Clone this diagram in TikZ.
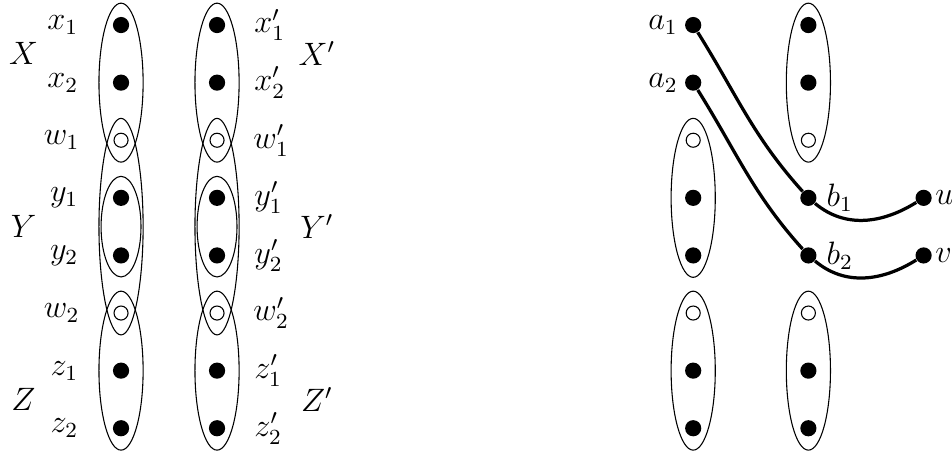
\documentclass[tikz,border=0pt]{standalone}
\usetikzlibrary{positioning, calc, shapes.geometric}

\begin{document}
\begin{tikzpicture}[
    every node/.style={font=\large},
    dot/.style={circle, fill=black, inner sep=0pt, minimum size=6pt},
    hole/.style={circle, draw=black, fill=white, thin, inner sep=0pt, minimum size=5.2pt},
    group_ell/.style={ellipse, draw=black, thin, inner sep=0pt, minimum width=0.575cm},
    path_line/.style={line width=1.2pt}
]
\useasboundingbox (-1.576,0.326) rectangle (10.82,-5.547);

% left picture: two columns
\foreach \n/\lab/\r/\s in {x1/x_1/0/dot, x2/x_2/1/dot, w1/w_1/2/hole, y1/y_1/3/dot,
                           y2/y_2/4/dot, w2/w_2/5/hole, z1/z_1/6/dot, z2/z_2/7/dot} {
    \coordinate (c\n) at (0,-0.75*\r);
    \coordinate (rc\n) at (1.25,-0.75*\r);
}
\node[group_ell, minimum height=2.07cm] (ellX) at (cx2) {};
\node[group_ell, minimum height=2.82cm] (ellY) at ($(cy1)!.5!(cy2)$) {};
\node[group_ell, minimum height=1.31cm, minimum width=0.52cm] (ellYin) at ($(cy1)!.5!(cy2)$) {};
\node[group_ell, minimum height=2.07cm] (ellZ) at (cz1) {};
\node[group_ell, minimum height=2.07cm] (ellXp) at (rcx2) {};
\node[group_ell, minimum height=2.82cm] (ellYp) at ($(rcy1)!.5!(rcy2)$) {};
\node[group_ell, minimum height=1.31cm, minimum width=0.52cm] (ellYinp) at ($(rcy1)!.5!(rcy2)$) {};
\node[group_ell, minimum height=2.07cm] (ellZp) at (rcz1) {};

\foreach \n/\lab/\r/\s in {x1/x_1/0/dot, x2/x_2/1/dot, w1/w_1/2/hole, y1/y_1/3/dot,
                           y2/y_2/4/dot, w2/w_2/5/hole, z1/z_1/6/dot, z2/z_2/7/dot} {
    \node[\s, label={[label distance=0.32cm]left:$\lab$}] (\n) at (c\n) {};
    \node[\s, label={[label distance=0.25cm]right:$\lab'$}] (r\n) at (rc\n) {};
}
\node (lblX) at ($(x1)!.5!(x2)+(-1.27,0)$) {$X$};
\node (lblY) at ($(y1)!.5!(y2)+(-1.27,0)$) {$Y$};
\node (lblZ) at ($(z1)!.5!(z2)+(-1.27,0)$) {$Z$};
\node (lblXp) at ($(rx1)!.5!(rx2)+(1.3,0)$) {$X'$};
\node (lblYp) at ($(ry1)!.5!(ry2)+(1.3,0)$) {$Y'$};
\node (lblZp) at ($(rz1)!.5!(rz2)+(1.3,0)$) {$Z'$};

% right picture
\node[group_ell, minimum height=2.07cm] (ellC) at (8.95,-0.75) {};
\node[group_ell, minimum height=2.07cm] (ellD) at (7.45,-2.25) {};
\node[group_ell, minimum height=2.07cm] (ellE) at (7.45,-4.5) {};
\node[group_ell, minimum height=2.07cm] (ellF) at (8.95,-4.5) {};

\node[dot, label={[label distance=-1pt]left:$a_1$}] (a1) at (7.45,0) {};
\node[dot, label={[label distance=-1pt]left:$a_2$}] (a2) at (7.45,-0.75) {};
\node[dot, label={[label distance=0pt]right:$b_1$}] (b1) at (8.95,-2.25) {};
\node[dot, label={[label distance=0pt]right:$b_2$}] (b2) at (8.95,-3) {};
\node[dot, label={[label distance=-2.4pt]right:$u$}] (u) at (10.45,-2.25) {};
\node[dot, label={[label distance=-2.4pt]right:$v$}] (v) at (10.45,-3) {};

\node[dot] (c0) at (8.95,0) {};
\node[dot] (c1) at (8.95,-0.75) {};
\node[hole] (c2) at (8.95,-1.5) {};
\node[hole] (d2) at (7.45,-1.5) {};
\node[dot] (d3) at (7.45,-2.25) {};
\node[dot] (d4) at (7.45,-3) {};
\foreach \cl/\xx in {e/7.45, f/8.95} {
    \node[hole] (\cl5) at (\xx,-3.75) {};
    \node[dot] (\cl6) at (\xx,-4.5) {};
    \node[dot] (\cl7) at (\xx,-5.25) {};
}

\draw[path_line] (a1) to[out=-58, in=132] (b1);
\draw[path_line] (a2) to[out=-58, in=132] (b2);
\draw[path_line] (b1) to[out=-40, in=-148] (u);
\draw[path_line] (b2) to[out=-40, in=-148] (v);

\end{tikzpicture}
\end{document}
